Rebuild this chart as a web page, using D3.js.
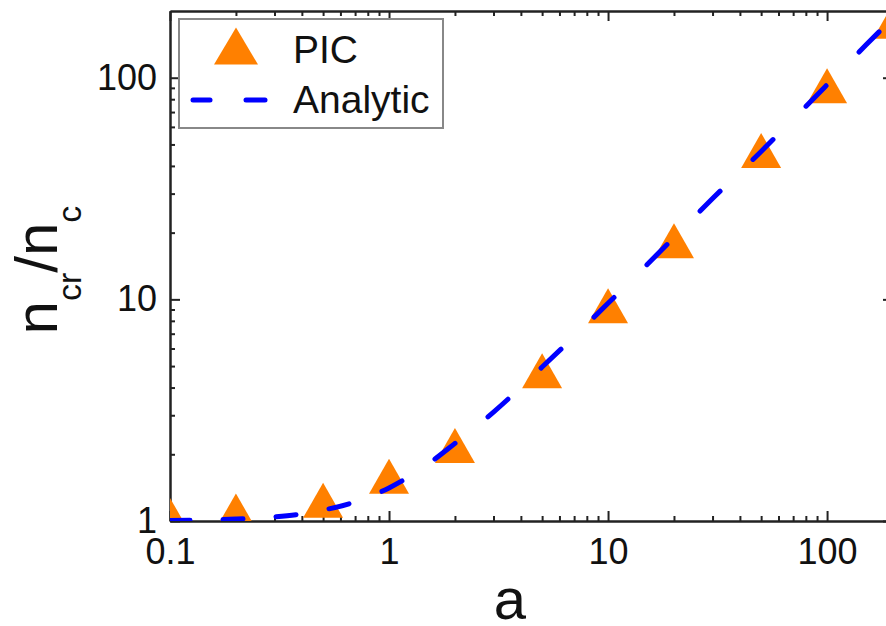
<!DOCTYPE html>
<html>
<head>
<meta charset="utf-8">
<script src="https://cdn.jsdelivr.net/npm/d3@7"></script>
<style>
  body { margin: 0; background: #fff; }
  text { font-family: "Liberation Sans", Arial, sans-serif; }
</style>
</head>
<body>
<div id="VizBox"></div>
<script>
// PIC points
var picA = [0.1, 0.2, 0.5, 1, 2, 5, 10, 20, 50, 100, 200];
var picN = [1.06, 1.11, 1.24, 1.59, 2.19, 4.76, 9.35, 18.4, 46.9, 92, 180];

// analytic curve
var anaA = [0.1, 0.2, 0.3, 0.4, 0.5, 0.7, 1, 1.5, 2, 3, 5, 7, 10, 20, 30, 50, 70, 100, 150, 200];
var anaN = [1.005, 1.02, 1.044, 1.077, 1.12, 1.22, 1.41, 1.8, 2.24, 3.1, 4.95, 6.8, 9.6, 19, 28.5, 46.5, 65, 93, 140, 186];

// ticks
var xMajor = [0.1, 1, 10, 100];
var xLabels = ["0.1", "1", "10", "100"];
var xMinor = [0.2, 0.3, 0.4, 0.5, 0.6, 0.7, 0.8, 0.9, 2, 3, 4, 5, 6, 7, 8, 9, 20, 30, 40, 50, 60, 70, 80, 90];
var yMajor = [1, 10, 100];
var yLabels = ["1", "10", "100"];
var yMinor = [2, 3, 4, 5, 6, 7, 8, 9, 20, 30, 40, 50, 60, 70, 80, 90];

var margin = {top: 11, right: -7, bottom: 105, left: 170},
    width = 886 - margin.left - margin.right,
    height = 626 - margin.top - margin.bottom;

var svgRoot = d3.select("#VizBox")
  .append("svg")
    .attr("width", 886)
    .attr("height", 626)
    .style("display", "block");

var svg = svgRoot.append("g")
    .attr("transform", "translate(" + margin.left + "," + margin.top + ")");

var x = d3.scaleLog().domain([0.1, 200]).range([0, width]);
var y = d3.scaleLog().domain([1, 200]).range([height, 0]);

svg.append("clipPath").attr("id", "plotClip")
  .append("rect").attr("width", width).attr("height", height);

// axes: all ticks point inward
function styleAxis(g) {
  g.attr("font-family", null).attr("font-size", null);
  g.selectAll("path, line").attr("stroke", "#222").attr("stroke-width", 2);
  g.selectAll("text").attr("fill", "#111").style("font-size", "36px");
}

svg.append("g")
  .attr("transform", "translate(0," + height + ")")
  .call(d3.axisBottom(x).tickValues(xMajor).tickSize(-10).tickSizeOuter(0).tickPadding(17)
        .tickFormat(function(d, i) { return xLabels[i]; }))
  .call(styleAxis);
svg.append("g")
  .attr("transform", "translate(0," + height + ")")
  .call(d3.axisBottom(x).tickValues(xMinor).tickSize(-5).tickSizeOuter(0).tickFormat(""))
  .call(styleAxis);

svg.append("g")
  .call(d3.axisLeft(y).tickValues(yMajor).tickSize(-10).tickSizeOuter(0).tickPadding(13)
        .tickFormat(function(d, i) { return yLabels[i]; }))
  .call(styleAxis);
svg.append("g")
  .call(d3.axisLeft(y).tickValues(yMinor).tickSize(-5).tickSizeOuter(0).tickFormat(""))
  .call(styleAxis);

svg.append("g")
  .call(d3.axisTop(x).tickValues(xMajor).tickSize(-10).tickSizeOuter(0).tickFormat(""))
  .call(styleAxis);
svg.append("g")
  .call(d3.axisTop(x).tickValues(xMinor).tickSize(-5).tickSizeOuter(0).tickFormat(""))
  .call(styleAxis);

svg.append("g")
  .attr("transform", "translate(" + width + ",0)")
  .call(d3.axisRight(y).tickValues(yMajor).tickSize(-10).tickSizeOuter(0).tickFormat(""))
  .call(styleAxis);
svg.append("g")
  .attr("transform", "translate(" + width + ",0)")
  .call(d3.axisRight(y).tickValues(yMinor).tickSize(-5).tickSizeOuter(0).tickFormat(""))
  .call(styleAxis);

// triangle marker, centred on its bounding box
function tri(w, h) {
  return "M0," + (-h / 2) + "L" + (w / 2) + "," + (h / 2) + "L" + (-w / 2) + "," + (h / 2) + "Z";
}

var plot = svg.append("g").attr("clip-path", "url(#plotClip)");

plot.selectAll("path.pic")
  .data(picA)
  .enter()
  .append("path")
    .attr("class", "pic")
    .attr("d", tri(40, 35))
    .attr("transform", function(d, i) { return "translate(" + x(d) + "," + y(picN[i]) + ")"; })
    .attr("fill", "#ff8000");

var line = d3.line()
  .x(function(d) { return x(d); })
  .y(function(d, i) { return y(anaN[i]); })
  .curve(d3.curveMonotoneX);

var ana = plot.append("path")
  .datum(anaA)
  .attr("d", line)
  .attr("fill", "none")
  .attr("stroke", "#0000ff")
  .attr("stroke-width", 5)
  .attr("stroke-linecap", "round");

// dashes repeat at a fixed horizontal step, like in the original
var node = ana.node();
var total = node.getTotalLength();
function lengthAtX(px) {
  var lo = 0, hi = total;
  for (var k = 0; k < 40; k++) {
    var mid = (lo + hi) / 2;
    if (node.getPointAtLength(mid).x < px) lo = mid; else hi = mid;
  }
  return lo;
}
var period = 53, dashW = 20;
var marks = [0];
for (var k = 0; k * period < width; k++) {
  marks.push(lengthAtX(Math.min(k * period + dashW, width)));
  marks.push(lengthAtX(Math.min((k + 1) * period, width)));
}
var dashArr = [];
for (var j = 1; j < marks.length; j++) dashArr.push(Math.max(marks[j] - marks[j - 1], 0.01));
dashArr.push(total);
ana.attr("stroke-dasharray", dashArr.join(","));

// legend
var legend = svgRoot.append("g");
legend.append("rect")
  .attr("x", 179).attr("y", 19).attr("width", 264).attr("height", 109)
  .attr("fill", "#fff").attr("stroke", "#888").attr("stroke-width", 2);
legend.append("path")
  .attr("d", tri(44, 37))
  .attr("transform", "translate(236,46)")
  .attr("fill", "#ff8000");
legend.append("text").attr("x", 293).attr("y", 63).style("font-size", "39px").attr("fill", "#111").text("PIC");
legend.append("line")
  .attr("x1", 193).attr("x2", 210).attr("y1", 100).attr("y2", 100)
  .attr("stroke", "#0000ff").attr("stroke-width", 5).attr("stroke-linecap", "round");
legend.append("line")
  .attr("x1", 246).attr("x2", 265).attr("y1", 100).attr("y2", 100)
  .attr("stroke", "#0000ff").attr("stroke-width", 5).attr("stroke-linecap", "round");
legend.append("text").attr("x", 293).attr("y", 113).style("font-size", "39px").attr("fill", "#111").text("Analytic");

// axis titles
svgRoot.append("text")
  .attr("x", 510).attr("y", 619)
  .attr("text-anchor", "middle")
  .style("font-size", "58px").attr("fill", "#111")
  .text("a");

var yTitle = svgRoot.append("text")
  .attr("transform", "translate(57,270) rotate(-90)")
  .attr("text-anchor", "middle")
  .attr("fill", "#111")
  .style("font-size", "60px");
yTitle.append("tspan").text("n");
yTitle.append("tspan").attr("dy", 24).style("font-size", "34px").text("cr");
yTitle.append("tspan").attr("dy", -24).text("/n");
yTitle.append("tspan").attr("dy", 24).style("font-size", "34px").text("c");
</script>
</body>
</html>
